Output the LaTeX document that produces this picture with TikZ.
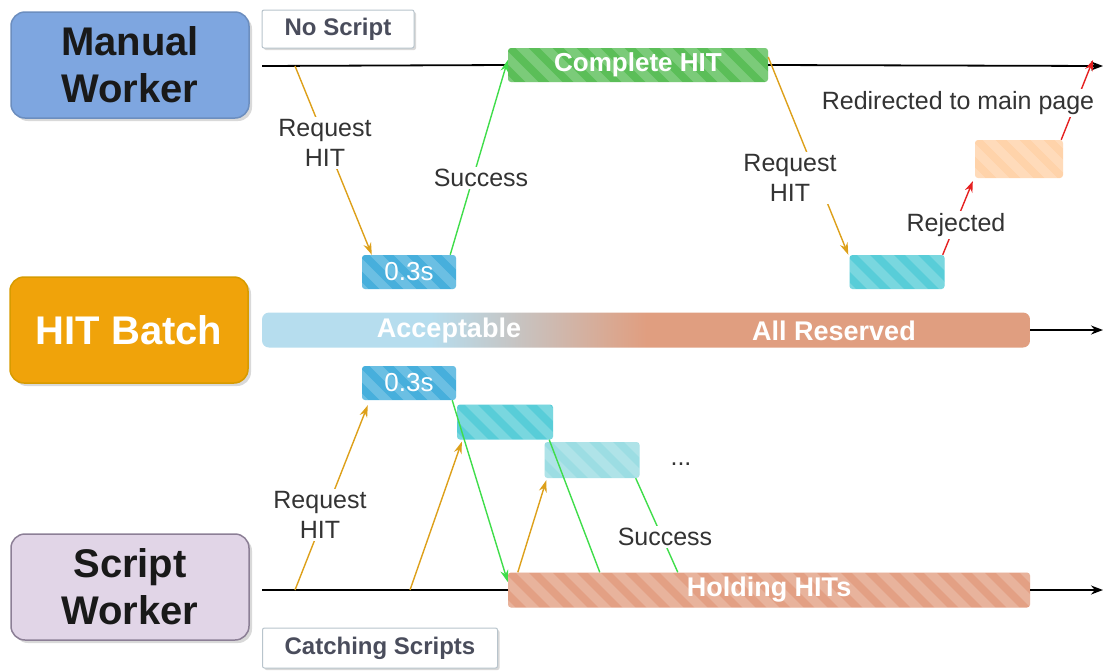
\documentclass[tikz,border=0pt]{standalone}
\usepackage{fontspec}
\setmainfont{Liberation Sans}
\usetikzlibrary{arrows.meta,shadows,calc}

\definecolor{manualfill}{HTML}{7EA6E0}
\definecolor{manualline}{HTML}{6C8EBF}
\definecolor{batchfill}{HTML}{F0A30A}
\definecolor{batchline}{HTML}{D79B00}
\definecolor{scriptfill}{HTML}{E1D5E7}
\definecolor{scriptline}{HTML}{8C7F96}
\definecolor{tagtext}{HTML}{4A4D5C}
\definecolor{tagline}{HTML}{B8C4CC}
\definecolor{lbltext}{HTML}{333333}
\definecolor{hitgreen}{HTML}{5BBE58}
\definecolor{waitblue}{HTML}{47AFDC}
\definecolor{heldcyan}{HTML}{58CDD8}
\definecolor{fadecyan}{HTML}{9CDDE3}
\definecolor{rejorange}{HTML}{FFCB9B}
\definecolor{holdsalmon}{HTML}{E3A084}
\definecolor{barblue}{HTML}{B6DDEE}
\definecolor{barsalmon}{HTML}{E09E80}
\definecolor{reqorange}{HTML}{DDA01A}
\definecolor{okgreen}{HTML}{3FDD4A}
\definecolor{rejred}{HTML}{E52020}

% batch state: blue while acceptable, fading into salmon once all reserved
\pgfdeclarehorizontalshading{batchshade}{100bp}{color(0bp)=(barblue); color(36bp)=(barblue); color(50bp)=(barsalmon); color(100bp)=(barsalmon)}

\tikzset{
  actor/.style={draw, line width=1.5pt, rounded corners=14pt,
    minimum width=238pt, minimum height=106pt, inner sep=0pt, align=center,
    font=\fontsize{40}{47}\selectfont\bfseries,
    drop shadow={shadow xshift=3pt, shadow yshift=-3pt, opacity=0.3}},
  tag/.style={draw=tagline, fill=white, line width=1pt, rounded corners=2pt,
    inner sep=0pt, text=tagtext, font=\fontsize{24}{28}\selectfont\bfseries,
    drop shadow={shadow xshift=2pt, shadow yshift=-2pt, opacity=0.3}},
  stripes/.style={path picture={
    \foreach \k in {-3,...,28} {
      \draw[white, opacity=0.2, line width=9pt]
        ([xshift=\k*24pt-30pt, yshift=20pt]path picture bounding box.north west)
        -- ++(70pt,-70pt);
    }}},
  slot/.style={rounded corners=3pt, inner sep=0pt, minimum height=34pt,
    text=white, font=\fontsize{26}{30}\selectfont, stripes},
  bartext/.style={text=white, font=\fontsize{27}{31}\selectfont\bfseries},
  lbl/.style={fill=white, inner sep=2pt, text=lbltext, align=center,
    font=\fontsize{25}{30}\selectfont},
  timeline/.style={line width=1.8pt, black},
  endtip/.style={-{Stealth[length=12pt,width=9pt]}},
  req/.style={reqorange, line width=1.4pt, -{Stealth[length=12pt,width=8pt]}},
  ok/.style={okgreen, line width=1.4pt},
  okarrow/.style={ok, -{Stealth[length=12pt,width=8pt]}},
  rej/.style={rejred, line width=1.4pt, -{Stealth[length=11pt,width=8pt]}},
}

\begin{document}
\begin{tikzpicture}[x=1pt, y=-1pt]
\useasboundingbox (0,0) rectangle (1105,670);

% ---- actors ----
\node[actor, draw=manualline, fill=manualfill, text=black!90] (mw) at (130,65) {Manual\\Worker};
\node[actor, draw=batchline, fill=batchfill, text=white] (hb) at (129,330) {HIT Batch};
\node[actor, draw=scriptline, fill=scriptfill, text=black!90] (sw) at (130,587) {Script\\Worker};

\node[tag, minimum width=152pt, minimum height=38pt] (ns) at (338,29) {No Script};
\node[tag, minimum width=235pt, minimum height=40pt] (cs) at (380,648) {Catching Scripts};

% ---- timeline coordinates ----
\coordinate (mstart) at (262,66);
\coordinate (mend) at (1103,66);
\coordinate (mreq) at (295,66);
\coordinate (sstart) at (262,590);
\coordinate (send) at (1103,590);
\coordinate (sreqA) at (295,590);
\coordinate (sreqB) at (410,590);
\coordinate (bend) at (1103,330);
\coordinate (redir) at (1093,60);

% ---- manual worker lane ----
\node[slot, fill=hitgreen, minimum width=260pt, font=\fontsize{26}{30}\selectfont\bfseries] (ch) at (638,65) {Complete HIT};
\draw[timeline] (mstart) -- (ch.west);
\draw[timeline, endtip] (ch.east) -- (mend);

\node[slot, fill=waitblue, minimum width=94pt] (t1) at (409,272) {0.3s};
\node[slot, fill=heldcyan, minimum width=95pt] (c1) at (897,272) {};
\node[slot, fill=rejorange, fill opacity=0.85, minimum width=88pt, minimum height=38pt] (or1) at (1019,159) {};

\draw[req] (mreq) -- ([xshift=10pt]t1.north west);
\draw[okarrow] ([xshift=-6pt]t1.north east) -- ([yshift=5pt]ch.west);
\draw[req] ([yshift=8pt]ch.east) -- ([xshift=-1pt]c1.north west);
\draw[rej] ([xshift=-2pt]c1.north east) -- ([shift={(-2pt,-3pt)}]or1.south west);
\draw[rej] ([xshift=-2pt]or1.north east) -- (redir);

\node[lbl] (lreq1) at (325,143) {Request\\HIT};
\node[lbl] (lsuc1) at (481,178) {Success};
\node[lbl] (lreq2) at (790,178) {Request\\HIT};
\node[lbl] (lrej) at (956,225) {Rejected};
\node[lbl] (lred) at (958,103) {Redirected to main page};

% ---- HIT batch state bar ----
\node[rounded corners=7pt, minimum width=768pt, minimum height=35pt, inner sep=0pt,
  shading=batchshade] (bar) at (646,330) {};
\node[bartext] (acc) at (449,331) {Acceptable};
\node[bartext] (res) at (834,331) {All Reserved};
\draw[timeline, endtip] (bar.east) -- (bend);

% ---- script worker lane ----
\node[slot, fill=holdsalmon, minimum width=522pt, minimum height=35pt, font=\fontsize{27}{31}\selectfont\bfseries] (hh) at (769,590) {Holding HITs};
\draw[timeline] (sstart) -- (hh.west);
\draw[timeline, endtip] (hh.east) -- (send);

\node[slot, fill=waitblue, minimum width=94pt] (t2) at (409,383) {0.3s};
\node[slot, fill=heldcyan, minimum width=96pt, minimum height=35pt] (c2) at (505,422) {};
\node[slot, fill=fadecyan, minimum width=95pt, minimum height=36pt] (c3) at (592,460) {};
\node[text=lbltext, font=\fontsize{25}{30}\selectfont] (dots) at (681,464) {...};

\draw[req] (sreqA) -- ([xshift=6pt, yshift=-5pt]t2.south west);
\draw[req] (sreqB) -- ([xshift=5pt, yshift=-2pt]c2.south west);
\draw[req] ([xshift=10pt]hh.north west) -- ([xshift=2pt, yshift=-2pt]c3.south west);

\draw[okarrow] ([xshift=-4pt]t2.south east) -- ([yshift=8pt]hh.west);
\draw[ok] ([xshift=-4pt]c2.south east) -- ([xshift=92pt]hh.north west);
\draw[ok] ([xshift=-4pt]c3.south east) -- ([xshift=170pt]hh.north west);

\node[lbl] (lreq3) at (320,515) {Request\\HIT};
\node[lbl] (lsuc2) at (665,537) {Success};
\end{tikzpicture}
\end{document}
